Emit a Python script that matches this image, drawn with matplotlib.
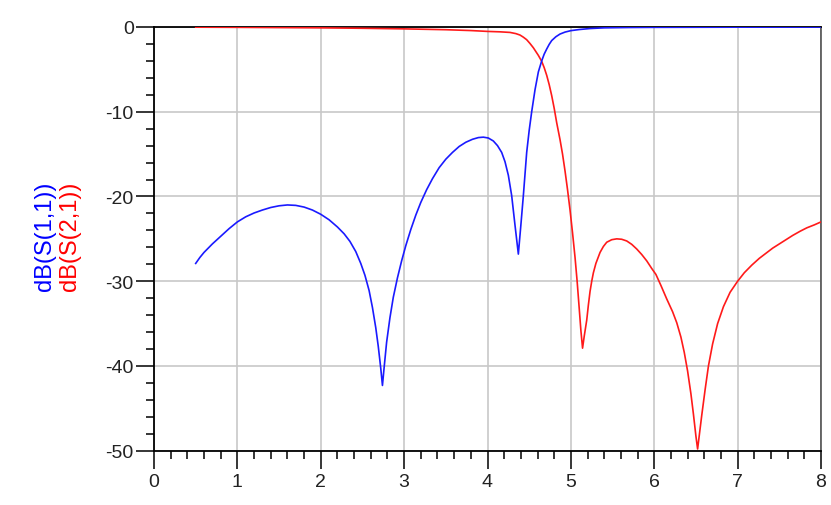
import matplotlib
matplotlib.use("Agg")
import matplotlib.pyplot as plt
from matplotlib.ticker import MultipleLocator

plt.rcParams['font.family'] = ['Liberation Sans', 'DejaVu Sans']
plt.rcParams['axes.unicode_minus'] = False

# S11 (blue) data: frequency and dB
s11_freq = [0.50, 0.55, 0.60, 0.70, 0.80, 0.90, 1.00, 1.10, 1.20, 1.30, 1.40, 1.50, 1.60,
            1.70, 1.80, 1.90, 2.00, 2.10, 2.20, 2.28, 2.35, 2.42, 2.48, 2.53, 2.58, 2.62,
            2.66, 2.69, 2.72, 2.74, 2.76, 2.79, 2.83, 2.87, 2.92, 2.97, 3.02, 3.08, 3.14,
            3.20, 3.27, 3.34, 3.42, 3.50, 3.58, 3.66, 3.74, 3.82, 3.89, 3.95, 4.01, 4.07,
            4.12, 4.17, 4.21, 4.25, 4.29, 4.33, 4.37, 4.40, 4.43, 4.47, 4.50, 4.53, 4.57,
            4.61, 4.65, 4.68, 4.71, 4.74, 4.77, 4.82, 4.87, 4.93, 5.00, 5.10, 5.23, 5.40,
            5.70, 6.00, 7.00, 8.00]
s11_db = [-27.9, -27.2, -26.6, -25.6, -24.7, -23.8, -23.0, -22.4, -21.95, -21.6, -21.3,
          -21.1, -21.0, -21.05, -21.25, -21.6, -22.1, -22.75, -23.6, -24.4, -25.3, -26.5,
          -27.9, -29.3, -31.1, -33.1, -35.5, -37.7, -40.3, -42.3, -40.2, -37.2, -34.3,
          -31.9, -29.6, -27.6, -25.8, -23.9, -22.2, -20.7, -19.2, -17.9, -16.6, -15.6,
          -14.8, -14.1, -13.6, -13.25, -13.05, -13.0, -13.1, -13.45, -14.0, -14.8, -15.9,
          -17.5, -19.9, -23.4, -26.8, -23.4, -19.9, -14.8, -12.2, -10.0, -7.4, -5.3, -4.0,
          -3.2, -2.6, -2.05, -1.6, -1.15, -0.83, -0.6, -0.43, -0.3, -0.18, -0.1, -0.06,
          -0.04, -0.02, -0.01]

# S21 (red) data: frequency and dB
s21_freq = [0.50, 1.00, 1.50, 2.00, 2.50, 3.00, 3.50, 3.80, 4.00, 4.15, 4.27, 4.34, 4.39,
            4.43, 4.47, 4.51, 4.55, 4.58, 4.61, 4.65, 4.68, 4.71, 4.74, 4.77, 4.80, 4.83,
            4.87, 4.90, 4.93, 4.96, 4.99, 5.02, 5.05, 5.075, 5.10, 5.12, 5.14, 5.16,
            5.19, 5.21, 5.23, 5.25, 5.27, 5.30, 5.35, 5.39, 5.43, 5.49, 5.55, 5.61, 5.67,
            5.73, 5.79, 5.85, 5.91, 5.97, 6.02, 6.08, 6.15, 6.22, 6.27, 6.32, 6.36, 6.40,
            6.44, 6.47, 6.50, 6.52, 6.54, 6.57, 6.61, 6.65, 6.70, 6.76, 6.83, 6.91, 7.00,
            7.08, 7.17, 7.26, 7.34, 7.42, 7.50, 7.58, 7.66, 7.75, 7.83, 7.92, 8.00]
s21_db = [-0.02, -0.04, -0.07, -0.1, -0.15, -0.22, -0.32, -0.42, -0.52, -0.57, -0.64,
          -0.78, -0.95, -1.2, -1.5, -1.95, -2.45, -2.9, -3.35, -4.05, -4.8, -5.7, -6.8,
          -8.1, -9.6, -11.3, -13.3, -15.0, -17.0, -19.2, -21.6, -24.3, -27.2, -30.0,
          -33.2, -35.8, -37.9, -36.5, -34.6, -32.8, -31.2, -30.0, -29.0, -27.9,
          -26.6, -25.9, -25.4, -25.1, -25.0, -25.05, -25.25, -25.65, -26.2, -26.85, -27.6,
          -28.5, -29.2, -30.5, -32.1, -33.6, -34.9, -36.6, -38.4, -40.6, -43.3, -45.7,
          -48.3, -49.8, -48.2, -45.8, -42.8, -40.0, -37.4, -35.0, -33.0, -31.3, -30.0,
          -29.0, -28.1, -27.3, -26.7, -26.1, -25.6, -25.1, -24.6, -24.1, -23.7, -23.35,
          -23.0]

x_ticks = [0, 1, 2, 3, 4, 5, 6, 7, 8]
y_ticks = [0, -10, -20, -30, -40, -50]

fig = plt.figure(figsize=(8.31, 5.06), dpi=100)
ax = fig.add_axes([154/831, 1 - 451.7/506, (821 - 154)/831, (451.7 - 28)/506])

ax.plot(s21_freq, s21_db, color='#ff1a1a', lw=1.2, zorder=3)
ax.plot(s11_freq, s11_db, color='#1a1aff', lw=1.2, zorder=3)

ax.set_xlim(0, 8)
ax.set_ylim(-50, 0)
ax.set_xticks(x_ticks)
ax.set_yticks(y_ticks)
ax.xaxis.set_minor_locator(MultipleLocator(0.2))
ax.yaxis.set_minor_locator(MultipleLocator(2))

ax.grid(True, which='major', color='#c8c8c8', lw=1.2, zorder=1)
ax.set_axisbelow(True)

ax.tick_params(axis='both', which='major', direction='out', length=13, width=1.1,
               labelsize=14, color='black', labelcolor='#222222')
ax.tick_params(axis='both', which='minor', direction='out', length=6, width=1.1,
               color='black')
ax.tick_params(axis='y', which='major', pad=1.5)
ax.tick_params(axis='x', which='major', pad=3)
ax.tick_params(top=False, right=False, which='both')

for side in ['left', 'bottom', 'top']:
    ax.spines[side].set_color('black')
    ax.spines[side].set_linewidth(1.3)
ax.spines['right'].set_color('#444444')
ax.spines['right'].set_linewidth(1.1)

fig.text(45/831, 1 - 236/506, 'dB(S(1,1))', color='blue', rotation=90,
         ha='center', va='center', fontsize=17)
fig.text(70/831, 1 - 236/506, 'dB(S(2,1))', color='red', rotation=90,
         ha='center', va='center', fontsize=17)

fig.savefig('out.png', dpi=100)
